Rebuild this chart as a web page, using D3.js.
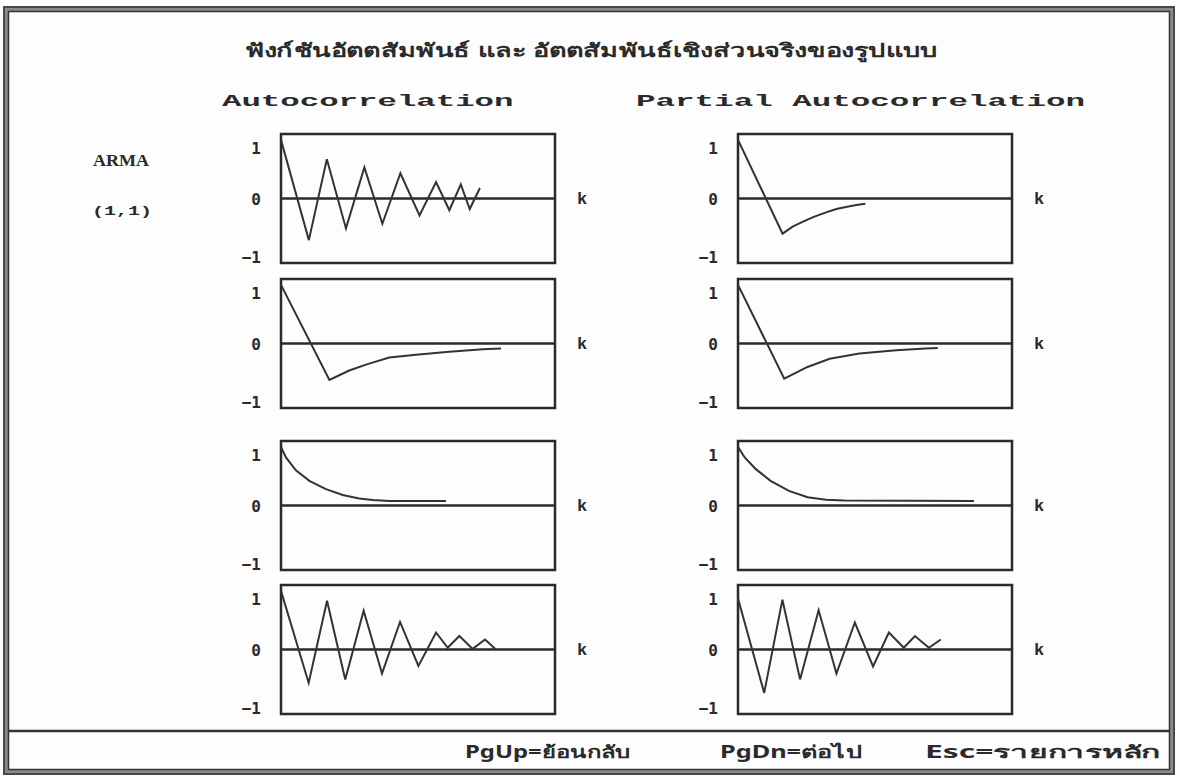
<!DOCTYPE html>
<html>
<head>
<meta charset="utf-8">
<script src="https://cdn.jsdelivr.net/npm/d3@7/dist/d3.min.js"></script>
<style>
  html, body { margin: 0; padding: 0; background: #ffffff; }
  svg { display: block; }
  .dos { font-family: "Liberation Mono", "DejaVu Sans Mono", monospace; font-weight: bold; fill: #2a2a2a; }
  .thai { font-family: "Noto Sans", "DejaVu Sans", sans-serif; font-weight: bold; fill: #2a2a2a; }
</style>
</head>
<body>
<svg id="chart" width="1180" height="776"></svg>
<script>
// ---- text content ----
const titleText = "ฟังก์ชันอัตตสัมพันธ์ และ อัตตสัมพันธ์เชิงส่วนจริงของรูปแบบ";
const columnTitles = ["Autocorrelation", "Partial Autocorrelation"];
const modelName = "ARMA";
const modelOrder = "(1,1)";
const yTicks = [1, 0, -1];
const yTickLabels = ["1", "0", "\u22121"];
const lagLabel = "k";
const keyHints = ["PgUp=ย้อนกลับ", "PgDn=ต่อไป", "Esc=รายการหลัก"];

// ---- correlogram traces (lag k, correlation value) ----
// row 1: autocorrelation, alternating decay
const acfA_k = [0, 1.53, 2.52, 3.57, 4.58, 5.57, 6.56, 7.61, 8.52, 9.25, 9.88, 10.37, 10.93];
const acfA_r = [1, -0.71, 0.67, -0.51, 0.53, -0.43, 0.43, -0.29, 0.28, -0.2, 0.24, -0.18, 0.18];
// row 1: partial autocorrelation, single negative spike then decay
const pacfA_k = [0, 2.45, 3.0, 3.6, 4.2, 4.8, 5.4, 6.0, 6.5, 7.0];
const pacfA_r = [1, -0.6, -0.48, -0.39, -0.31, -0.24, -0.18, -0.14, -0.11, -0.09];
// row 2: autocorrelation, negative with slow decay
const acfB_k = [0, 2.66, 3.75, 4.67, 5.95, 7.42, 9.25, 11.08, 12.09];
const acfB_r = [1, -0.62, -0.46, -0.36, -0.24, -0.19, -0.14, -0.1, -0.086];
// row 2: partial autocorrelation
const pacfB_k = [0, 2.54, 3.82, 5.04, 6.67, 8.7, 10.3, 10.98];
const pacfB_r = [1, -0.6, -0.4, -0.26, -0.17, -0.115, -0.086, -0.075];
// row 3: autocorrelation, positive exponential decay
const acfC_k = [0, 0.27, 0.82, 1.56, 2.47, 3.39, 4.3, 5.04, 5.95, 9.07];
const acfC_r = [1, 0.82, 0.6, 0.42, 0.28, 0.18, 0.12, 0.092, 0.075, 0.075];
// row 3: partial autocorrelation
const pacfC_k = [0, 0.37, 0.98, 1.79, 2.8, 3.82, 4.84, 5.85, 12.97];
const pacfC_r = [1, 0.82, 0.62, 0.42, 0.25, 0.14, 0.1, 0.086, 0.075];
// row 4: autocorrelation, damped oscillation
const acfD_k = [0, 1.52, 2.53, 3.53, 4.54, 5.55, 6.54, 7.55, 8.52, 9.16, 9.8, 10.53, 11.21, 11.78];
const acfD_r = [1, -0.57, 0.83, -0.51, 0.66, -0.41, 0.47, -0.28, 0.29, 0.03, 0.23, 0.01, 0.17, 0.01];
// row 4: partial autocorrelation, damped oscillation
const pacfD_k = [0, 1.44, 2.44, 3.41, 4.43, 5.41, 6.42, 7.42, 8.29, 9.11, 9.72, 10.49, 11.14];
const pacfD_r = [0.87, -0.74, 0.85, -0.51, 0.67, -0.41, 0.46, -0.29, 0.29, 0.03, 0.23, 0.03, 0.17];

const rows = [
  [[acfA_k, acfA_r], [pacfA_k, pacfA_r]],
  [[acfB_k, acfB_r], [pacfB_k, pacfB_r]],
  [[acfC_k, acfC_r], [pacfC_k, pacfC_r]],
  [[acfD_k, acfD_r], [pacfD_k, pacfD_r]]
];

// ---- layout ----
const W = 1180, H = 776;
const panelW = 274, panelH = 129;
const colX = [281, 738];
const rowY = [134, 279, 441, 585];
const ink = "#2a2a2a";

const svg = d3.select("#chart");
svg.append("rect").attr("width", W).attr("height", H).attr("fill", "#fdfdfd");

// screen frame: heavy double border
svg.append("rect").attr("x", 6).attr("y", 9).attr("width", 1166).attr("height", 763)
  .attr("fill", "none").attr("stroke", "#8a8a8a").attr("stroke-width", 6);
svg.append("rect").attr("x", 4).attr("y", 7).attr("width", 1170).attr("height", 767)
  .attr("fill", "none").attr("stroke", "#333").attr("stroke-width", 1.5);
svg.append("rect").attr("x", 8.5).attr("y", 11.5).attr("width", 1161).attr("height", 758)
  .attr("fill", "none").attr("stroke", "#333").attr("stroke-width", 1.5);
// status-bar separator
svg.append("line").attr("x1", 9).attr("x2", 1170).attr("y1", 731).attr("y2", 731)
  .attr("stroke", "#333").attr("stroke-width", 2.5);

// title and column headings
svg.append("text").attr("class", "thai")
  .attr("x", 245).attr("y", 50).attr("dy", "0.35em")
  .attr("textLength", 692).attr("lengthAdjust", "spacingAndGlyphs")
  .attr("font-size", 19).text(titleText);

const headX = [222, 636];
columnTitles.forEach((t, i) => {
  svg.append("text").attr("class", "dos")
    .attr("x", headX[i]).attr("y", 100).attr("dy", "0.35em")
    .attr("font-size", 17)
    .attr("textLength", t.length * 19.7 - 4).attr("lengthAdjust", "spacingAndGlyphs")
    .text(t);
});

// model label on the left
svg.append("text").attr("x", 93).attr("y", 160).attr("dy", "0.35em")
  .attr("font-family", "'Liberation Serif', serif").attr("font-weight", "bold")
  .attr("fill", ink).attr("font-size", 16)
  .attr("textLength", 56).attr("lengthAdjust", "spacingAndGlyphs")
  .text(modelName);
svg.append("text").attr("class", "dos").attr("x", 92).attr("y", 210).attr("dy", "0.35em")
  .attr("font-size", 13).attr("textLength", 60).attr("lengthAdjust", "spacingAndGlyphs")
  .attr("font-weight", "normal")
  .text(modelOrder);

// shared scales
const x = d3.scaleLinear().domain([0, 15]).range([0, panelW - 1]);
const y = d3.scaleLinear().domain([-1.1, 1.1]).range([panelH, 0]);
const line = d3.line().x(d => x(d[0])).y(d => y(d[1]));

rows.forEach((row, ri) => {
  row.forEach(([ks, rs], ci) => {
    const g = svg.append("g").attr("transform", `translate(${colX[ci]},${rowY[ri]})`);

    // frame of the panel
    g.append("rect").attr("width", panelW).attr("height", panelH)
      .attr("fill", "none").attr("stroke", ink).attr("stroke-width", 2.5);
    // zero reference line
    g.append("line").attr("x1", 0).attr("x2", panelW).attr("y1", y(0)).attr("y2", y(0))
      .attr("stroke", ink).attr("stroke-width", 2.5);

    // value axis with labels 1, 0, -1
    const axis = d3.axisLeft(y).tickValues(yTicks).tickSize(0).tickPadding(20)
      .tickFormat((d, i) => yTickLabels[i]);
    const ag = g.append("g").call(axis);
    ag.select(".domain").remove();
    ag.selectAll("text")
      .attr("font-size", 16).attr("fill", ink).attr("font-weight", "bold")
      .attr("font-family", "'DejaVu Sans Mono', monospace")
      .attr("dy", d => d === 1 ? "0.85em" : "0.35em");

    // lag axis name
    g.append("text").attr("class", "dos").attr("font-size", 17)
      .attr("x", panelW + 22).attr("y", y(0)).attr("dy", "0.35em").text(lagLabel);

    // correlation trace
    const pts = ks.map((k, i) => [k, rs[i]]);
    g.append("path").datum(pts).attr("d", line)
      .attr("fill", "none").attr("stroke", "#333").attr("stroke-width", 2)
      .attr("stroke-linejoin", "miter");
  });
});

// key hints in the status bar
const hintX = [465, 720, 925];
const hintW = [165, 142, 235];
keyHints.forEach((t, i) => {
  svg.append("text").attr("class", "thai").attr("x", hintX[i]).attr("y", 752).attr("dy", "0.35em")
    .attr("font-size", 17).attr("textLength", hintW[i]).attr("lengthAdjust", "spacingAndGlyphs")
    .text(t);
});
</script>
</body>
</html>
